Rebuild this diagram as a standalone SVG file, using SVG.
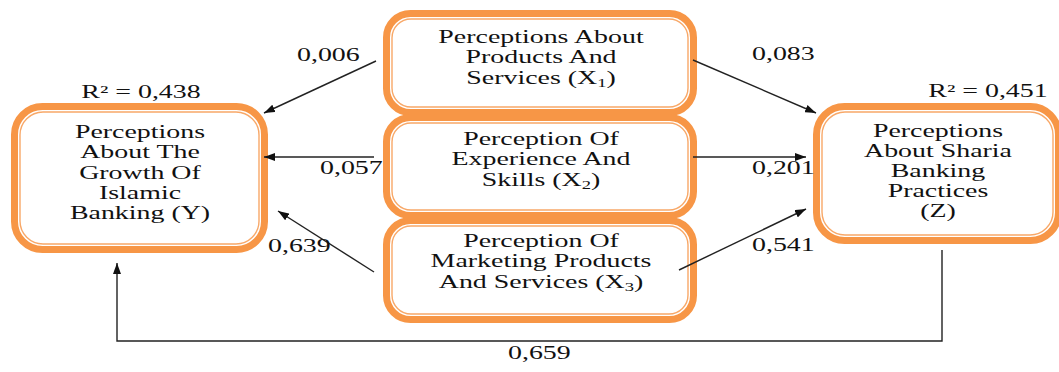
<svg xmlns="http://www.w3.org/2000/svg" width="1059" height="372" viewBox="0 0 1059 372">
<defs>
<style>
.box{fill:#fff;stroke:#F79646;stroke-width:7}
.inner{fill:none;stroke:#F8A868;stroke-width:1.4}
text{font-family:"Liberation Serif","Times New Roman",serif;font-size:18px;fill:#111}
.c{text-anchor:middle}
.sub{font-size:12px}
.edge{fill:none;stroke:#222;stroke-width:1.4}
</style>
<marker id="ah" viewBox="0 0 11 8" refX="11" refY="4" markerWidth="11" markerHeight="8" markerUnits="userSpaceOnUse" orient="auto">
<path d="M0,0 L11,4 L0,8 Z" fill="#111"/>
</marker>
</defs>

<g id="nodeY">
<rect class="box" x="14.5" y="106.5" width="250" height="143" rx="28"/>
<rect class="inner" x="20" y="112" width="239" height="132" rx="23"/>
<text class="c" transform="matrix(1.55,0,0,1,140,138)"><tspan x="0" y="0">Perceptions</tspan><tspan x="0" y="20.3">About The</tspan><tspan x="0" y="40.6">Growth Of</tspan><tspan x="0" y="60.9">Islamic</tspan><tspan x="0" y="81.2">Banking (Y)</tspan></text>
<text class="c" transform="matrix(1.55,0,0,1,141,98)">R² = 0,438</text>
</g>

<g id="nodeX1">
<rect class="box" x="386.5" y="13.5" width="307" height="99" rx="24"/>
<rect class="inner" x="392" y="19" width="296" height="88" rx="19"/>
<text class="c" transform="matrix(1.55,0,0,1,541,43)"><tspan x="0" y="0">Perceptions About</tspan><tspan x="0" y="20.3">Products And</tspan><tspan x="0" y="40.6">Services (X<tspan class="sub" dy="3">1</tspan><tspan dy="-3">)</tspan></tspan></text>
</g>

<g id="nodeX2">
<rect class="box" x="386.5" y="117.5" width="307" height="98" rx="24"/>
<rect class="inner" x="392" y="123" width="296" height="87" rx="19"/>
<text class="c" transform="matrix(1.55,0,0,1,541,145)"><tspan x="0" y="0">Perception Of</tspan><tspan x="0" y="20.3">Experience And</tspan><tspan x="0" y="40.6">Skills (X<tspan class="sub" dy="3">2</tspan><tspan dy="-3">)</tspan></tspan></text>
</g>

<g id="nodeX3">
<rect class="box" x="386.5" y="220.5" width="307" height="99" rx="24"/>
<rect class="inner" x="392" y="226" width="296" height="88" rx="19"/>
<text class="c" transform="matrix(1.55,0,0,1,541,247)"><tspan x="0" y="0">Perception Of</tspan><tspan x="0" y="20.3">Marketing Products</tspan><tspan x="0" y="40.6">And Services (X<tspan class="sub" dy="3">3</tspan><tspan dy="-3">)</tspan></tspan></text>
</g>

<g id="nodeZ">
<rect class="box" x="816.5" y="106.5" width="242" height="134" rx="28"/>
<rect class="inner" x="822" y="112" width="231" height="123" rx="23"/>
<text class="c" transform="matrix(1.55,0,0,1,938,137)"><tspan x="0" y="0">Perceptions</tspan><tspan x="0" y="20">About Sharia</tspan><tspan x="0" y="40">Banking</tspan><tspan x="0" y="60">Practices</tspan><tspan x="0" y="80">(Z)</tspan></text>
<text class="c" transform="matrix(1.55,0,0,1,988,97)">R² = 0,451</text>
</g>

<g id="edges">
<line class="edge" x1="376" y1="61" x2="264" y2="113" marker-end="url(#ah)"/>
<line class="edge" x1="374" y1="157" x2="264" y2="157" marker-end="url(#ah)"/>
<line class="edge" x1="374" y1="272" x2="278" y2="211" marker-end="url(#ah)"/>
<line class="edge" x1="693" y1="60" x2="816" y2="113" marker-end="url(#ah)"/>
<line class="edge" x1="693" y1="157" x2="806" y2="157" marker-end="url(#ah)"/>
<line class="edge" x1="679" y1="270" x2="806" y2="209" marker-end="url(#ah)"/>
<polyline class="edge" points="942,250 942,341 117,341 117,263" marker-end="url(#ah)"/>
<text transform="matrix(1.55,0,0,1,297,61)">0,006</text>
<text transform="matrix(1.55,0,0,1,320,174)">0,057</text>
<text transform="matrix(1.55,0,0,1,268,252)">0,639</text>
<text transform="matrix(1.55,0,0,1,752,60)">0,083</text>
<text transform="matrix(1.55,0,0,1,752,174)">0,201</text>
<text transform="matrix(1.55,0,0,1,752,251)">0,541</text>
<text transform="matrix(1.55,0,0,1,508,359)">0,659</text>
</g>
</svg>
